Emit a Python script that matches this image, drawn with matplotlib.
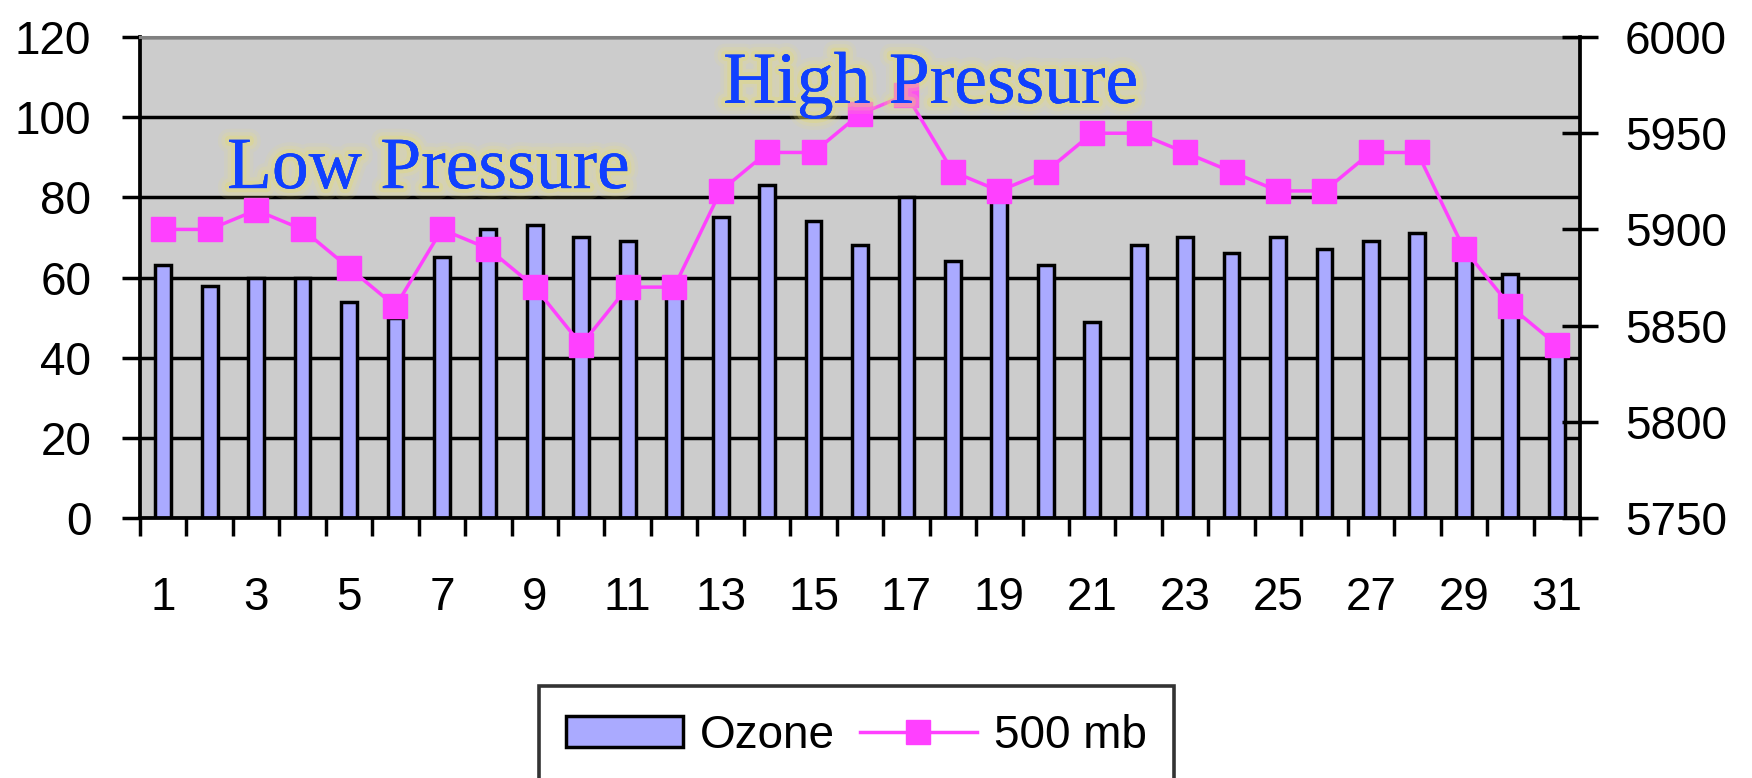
import matplotlib
matplotlib.use('Agg')
import matplotlib.pyplot as plt
import matplotlib.patheffects as pe
import numpy as np

# # # data

days = list(range(1, 32))
ozone = [63, 58, 60, 60, 54, 50, 65, 72, 73, 70, 69, 58, 75, 83, 74, 68,
         80, 64, 82, 63, 49, 68, 70, 66, 70, 67, 69, 71, 66, 61, 43]
mb500 = [5900, 5900, 5910, 5900, 5880, 5860, 5900, 5890, 5870, 5840, 5870,
         5870, 5920, 5940, 5940, 5960, 5970, 5930, 5920, 5930, 5950, 5950,
         5940, 5930, 5920, 5920, 5940, 5940, 5890, 5860, 5840]
left_ticks = [0, 20, 40, 60, 80, 100, 120]
right_ticks = [5750, 5800, 5850, 5900, 5950, 6000]
day_labels = [str(d) for d in days[::2]]

bar_color = '#aaaaff'
line_color = '#ff40ff'
text_color = '#1040ff'
sans = 'Liberation Sans'
serif = 'Liberation Serif'

fig = plt.figure(figsize=(17.52, 7.78), dpi=100)
ax = fig.add_axes([0.0799, 0.3342, 0.8219, 0.6182])
ax.set_facecolor('#cccccc')
ax.set_axisbelow(True)

# ozone bars
ax.bar(days, ozone, width=0.34, color=bar_color, edgecolor='black',
       linewidth=2.5, label='Ozone', zorder=2)
ax.set_xlim(0.5, 31.5)
ax.set_ylim(0, 120)
ax.set_yticks(left_ticks)
ax.yaxis.grid(True, color='black', linewidth=2.5)

# ticks between days, labels on odd days
ax.set_xticks(np.arange(0.5, 32, 1))
ax.set_xticklabels([])
ax.set_xticks(days[::2], minor=True)
ax.set_xticklabels(day_labels, minor=True, fontsize=33, family=sans)
ax.tick_params(axis='x', which='major', direction='out', length=13, width=2.5)
ax.tick_params(axis='x', which='minor', length=0, pad=42)
ax.tick_params(axis='y', direction='out', length=13, width=2.5, pad=22,
               labelsize=33)
for t in ax.get_yticklabels():
    t.set_family(sans)

for s in ['left', 'bottom']:
    ax.spines[s].set_linewidth(2.7)
ax.spines['top'].set_color('#808080')
ax.spines['top'].set_linewidth(2.2)
ax.spines['right'].set_visible(False)

# 500 mb line on the right axis
ax2 = ax.twinx()
ax2.plot(days, mb500, color=line_color, linewidth=2.5, marker='s',
         markersize=17, label='500 mb', zorder=3)
ax2.set_ylim(5750, 6000)
ax2.set_yticks(right_ticks)
ax2.tick_params(axis='y', direction='inout', length=26, width=2.5, pad=19.5,
                labelsize=33)
for t in ax2.get_yticklabels():
    t.set_family(sans)
for s in ['left', 'top', 'bottom']:
    ax2.spines[s].set_visible(False)
ax2.spines['right'].set_linewidth(2.7)

# soft yellow glow round the labels
glow = [pe.withStroke(linewidth=16, foreground='#ece47a', alpha=0.12),
        pe.withStroke(linewidth=11, foreground='#ece47a', alpha=0.18),
        pe.withStroke(linewidth=6, foreground='#e6de66', alpha=0.3),
        pe.Normal()]
ax2.text(0.0604, 0.686, 'Low Pressure', transform=ax2.transAxes,
         fontsize=53, family=serif, color=text_color, va='baseline',
         path_effects=glow, zorder=5)
ax2.text(0.405, 0.863, 'High Pressure', transform=ax2.transAxes,
         fontsize=53, family=serif, color=text_color, va='baseline',
         path_effects=glow, zorder=5)

# legend below, partly cut off by the figure edge
h1, l1 = ax.get_legend_handles_labels()
h2, l2 = ax2.get_legend_handles_labels()
leg = fig.legend(h1 + h2, l1 + l2, loc='upper center',
                 bbox_to_anchor=(0.4889, 0.118), ncol=2, frameon=True,
                 fancybox=False, edgecolor='black',
                 prop={'family': sans, 'size': 33},
                 handlelength=2.55, handleheight=0.65, handletextpad=0.37,
                 columnspacing=0.54, borderpad=0.6, borderaxespad=0)
leg.get_frame().set_linewidth(2.6)

fig.savefig('out.png', dpi=100)
# plt.show()
plt.close()
